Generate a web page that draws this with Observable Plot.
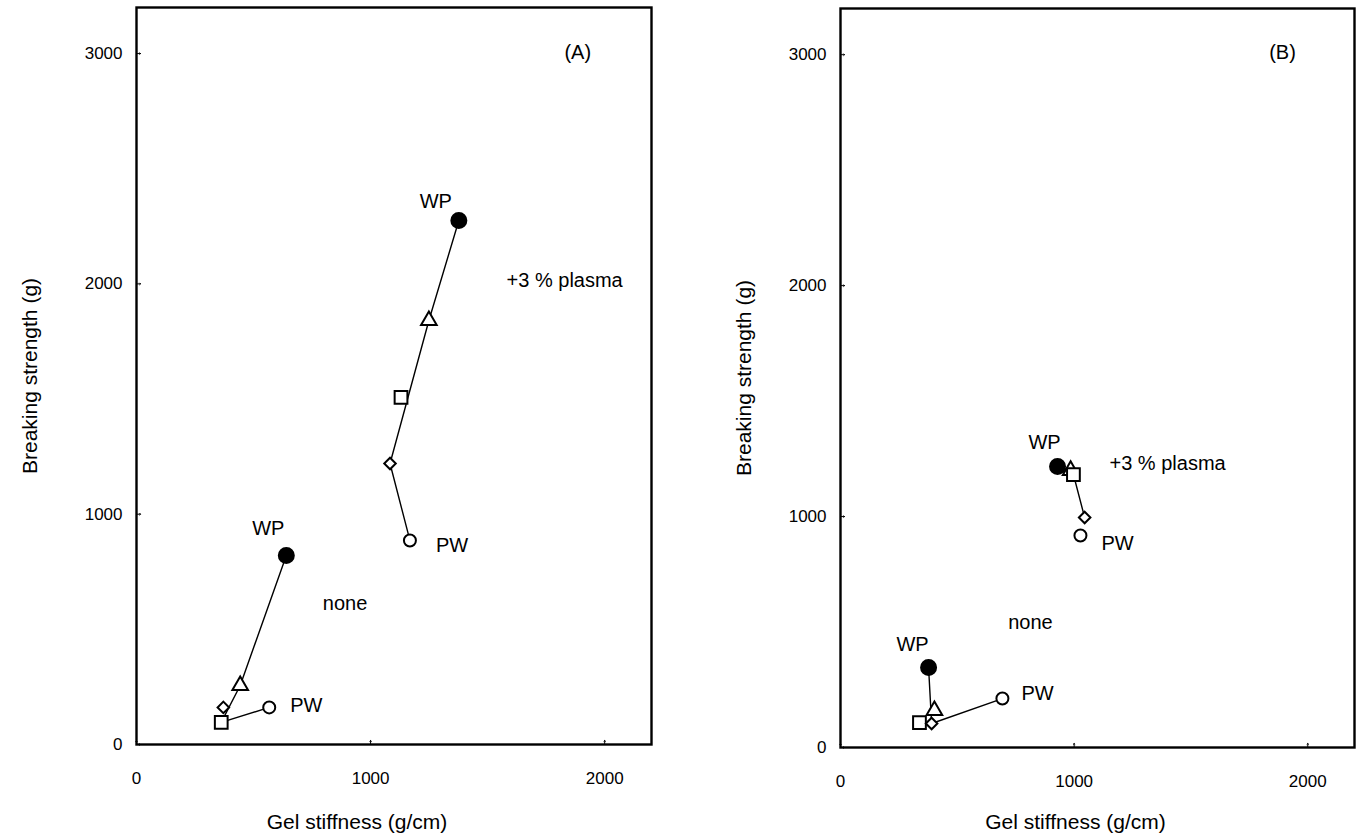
<!DOCTYPE html>
<html><head><meta charset="utf-8">
<script src="https://cdn.jsdelivr.net/npm/d3@7"></script>
<script src="https://cdn.jsdelivr.net/npm/@observablehq/plot@0.6"></script>
<style>
body{margin:0;background:#fff;}
#wrap{position:relative;width:1364px;height:839px;overflow:hidden;}
#wrap svg{position:absolute;top:0;}
</style></head><body><div id="wrap"></div>
<script>
// ---- data ----
const markers = ["WP", "triangle", "square", "diamond", "PW"];
const aNoneX   = [640, 443, 362, 371, 567];
const aNoneY   = [821, 256, 96, 161, 161];
const aPlasmaX = [1377, 1249, 1130, 1083, 1168];
const aPlasmaY = [2275, 1841, 1507, 1220, 886];
const bNoneX   = [377, 402, 338, 390, 693];
const bNoneY   = [346, 160, 108, 104, 212];
const bPlasmaX = [929, 985, 997, 1045, 1027];
const bPlasmaY = [1217, 1200, 1182, 996, 918];
// order of points joined by the connecting line
const aNoneLine   = ["WP", "triangle", "square", "PW"];
const aPlasmaLine = ["WP", "triangle", "diamond", "PW"];
const bNoneLine   = ["WP", "diamond", "PW"];
const bPlasmaLine = ["WP", "triangle", "square", "diamond"];
const xTicks = [0, 1000, 2000];
const yTicks = [0, 1000, 2000, 3000];
const xDomain = [0, 2200];
const yDomain = [0, 3200];
const groupLabelsA = [{text: "(A)", x: 1885, y: 3005}, {text: "+3 % plasma", x: 1829, y: 2015}, {text: "none", x: 891, y: 612}];
const groupLabelsB = [{text: "(B)", x: 1892, y: 3010}, {text: "+3 % plasma", x: 1400, y: 1230}, {text: "none", x: 813, y: 541}];
const xTitle = "Gel stiffness (g/cm)";
const yTitle = "Breaking strength (g)";

const font = "'Liberation Sans', Arial, sans-serif";

function series(xs, ys) { return markers.map((m, i) => ({m, x: xs[i], y: ys[i]})); }
function linePts(s, order) { return order.map(m => s.find(d => d.m === m)); }

const symStyle = {
  WP:       {symbol: "circle",   r: 7.5, fill: "black"},
  triangle: {symbol: "triangle", r: 5.8, fill: "white"},
  square:   {symbol: "square",   r: 7.2, fill: "white"},
  diamond:  {symbol: "diamond2", r: 5.2, fill: "white"},
  PW:       {symbol: "circle",   r: 6,   fill: "white"}
};

function panel(cfg) {
  const all = [...cfg.none, ...cfg.plasma];
  const lbl = {fontSize: 20, fill: "black"};
  const marks = [
    Plot.axisX({ticks: xTicks, tickSize: 0, tickPadding: 27, fontSize: 17, label: null, tickFormat: d => String(d)}),
    Plot.axisY({ticks: yTicks, tickSize: 0, tickPadding: 14, fontSize: 17, label: null, tickFormat: d => String(d)}),
    Plot.vector(yTicks, {x: xDomain[0], y: d => d, length: 4, rotate: 90, anchor: "start", stroke: "black", strokeWidth: 1}),
    Plot.vector(xTicks, {x: d => d, y: yDomain[0], length: 4, rotate: 0, anchor: "start", stroke: "black", strokeWidth: 1}),
    Plot.line(linePts(cfg.none, cfg.noneLine), {x: "x", y: "y", stroke: "black", strokeWidth: 1.4}),
    Plot.line(linePts(cfg.plasma, cfg.plasmaLine), {x: "x", y: "y", stroke: "black", strokeWidth: 1.4}),
    ...markers.map(m => Plot.dot(all.filter(d => d.m === m), {x: "x", y: "y", symbol: () => symStyle[m].symbol, r: symStyle[m].r, fill: symStyle[m].fill, stroke: "black", strokeWidth: 2})),
    Plot.frame({stroke: "black", strokeWidth: 2.4}),
    Plot.text(cfg.groupLabels, {x: "x", y: "y", text: "text", ...lbl}),
    Plot.text([cfg.none[0]], {x: "x", y: "y", text: () => "WP", dx: cfg.wpNone[0], dy: cfg.wpNone[1], ...lbl}),
    Plot.text([cfg.plasma[0]], {x: "x", y: "y", text: () => "WP", dx: cfg.wpPlasma[0], dy: cfg.wpPlasma[1], ...lbl}),
    Plot.text([cfg.none[4]], {x: "x", y: "y", text: () => "PW", textAnchor: "start", dx: cfg.pwNone[0], dy: cfg.pwNone[1], ...lbl}),
    Plot.text([cfg.plasma[4]], {x: "x", y: "y", text: () => "PW", textAnchor: "start", dx: cfg.pwPlasma[0], dy: cfg.pwPlasma[1], ...lbl}),
    Plot.text([xTitle], {frameAnchor: "bottom", textAnchor: "middle", lineAnchor: "middle", dx: cfg.xtDx, dy: cfg.xtDy, fontSize: 21, letterSpacing: "0.6px", fill: "black"}),
    Plot.text([yTitle], {frameAnchor: "left", textAnchor: "middle", lineAnchor: "middle", rotate: -90, dx: cfg.ytDx, fontSize: 21, letterSpacing: "0.6px", fill: "black"})
  ];
  const svg = Plot.plot({
    width: cfg.width, height: 839,
    marginLeft: cfg.ml, marginRight: cfg.mr, marginTop: cfg.mt, marginBottom: cfg.mb,
    style: {fontFamily: font, fontSize: "16px", color: "black", background: "white"},
    x: {domain: xDomain},
    y: {domain: yDomain},
    marks
  });
  svg.style.left = cfg.left + "px";
  return svg;
}

const wrap = document.getElementById("wrap");
wrap.appendChild(panel({
  left: 0, width: 680, ml: 136, mr: 29, mt: 7, mb: 95,
  none: series(aNoneX, aNoneY), plasma: series(aPlasmaX, aPlasmaY),
  noneLine: aNoneLine, plasmaLine: aPlasmaLine, groupLabels: groupLabelsA,
  wpNone: [-18, -27], wpPlasma: [-23, -19], pwNone: [21, -2], pwPlasma: [26, 5],
  xtDx: -37, xtDy: 78, ytDx: -106
}));
wrap.appendChild(panel({
  left: 680, width: 684, ml: 160, mr: 10, mt: 8, mb: 92,
  none: series(bNoneX, bNoneY), plasma: series(bPlasmaX, bPlasmaY),
  noneLine: bNoneLine, plasmaLine: bPlasmaLine, groupLabels: groupLabelsB,
  wpNone: [-16, -23], wpPlasma: [-13, -24], pwNone: [19, -5], pwPlasma: [21, 8],
  xtDx: -22, xtDy: 75, ytDx: -96
}));
</script></body></html>
